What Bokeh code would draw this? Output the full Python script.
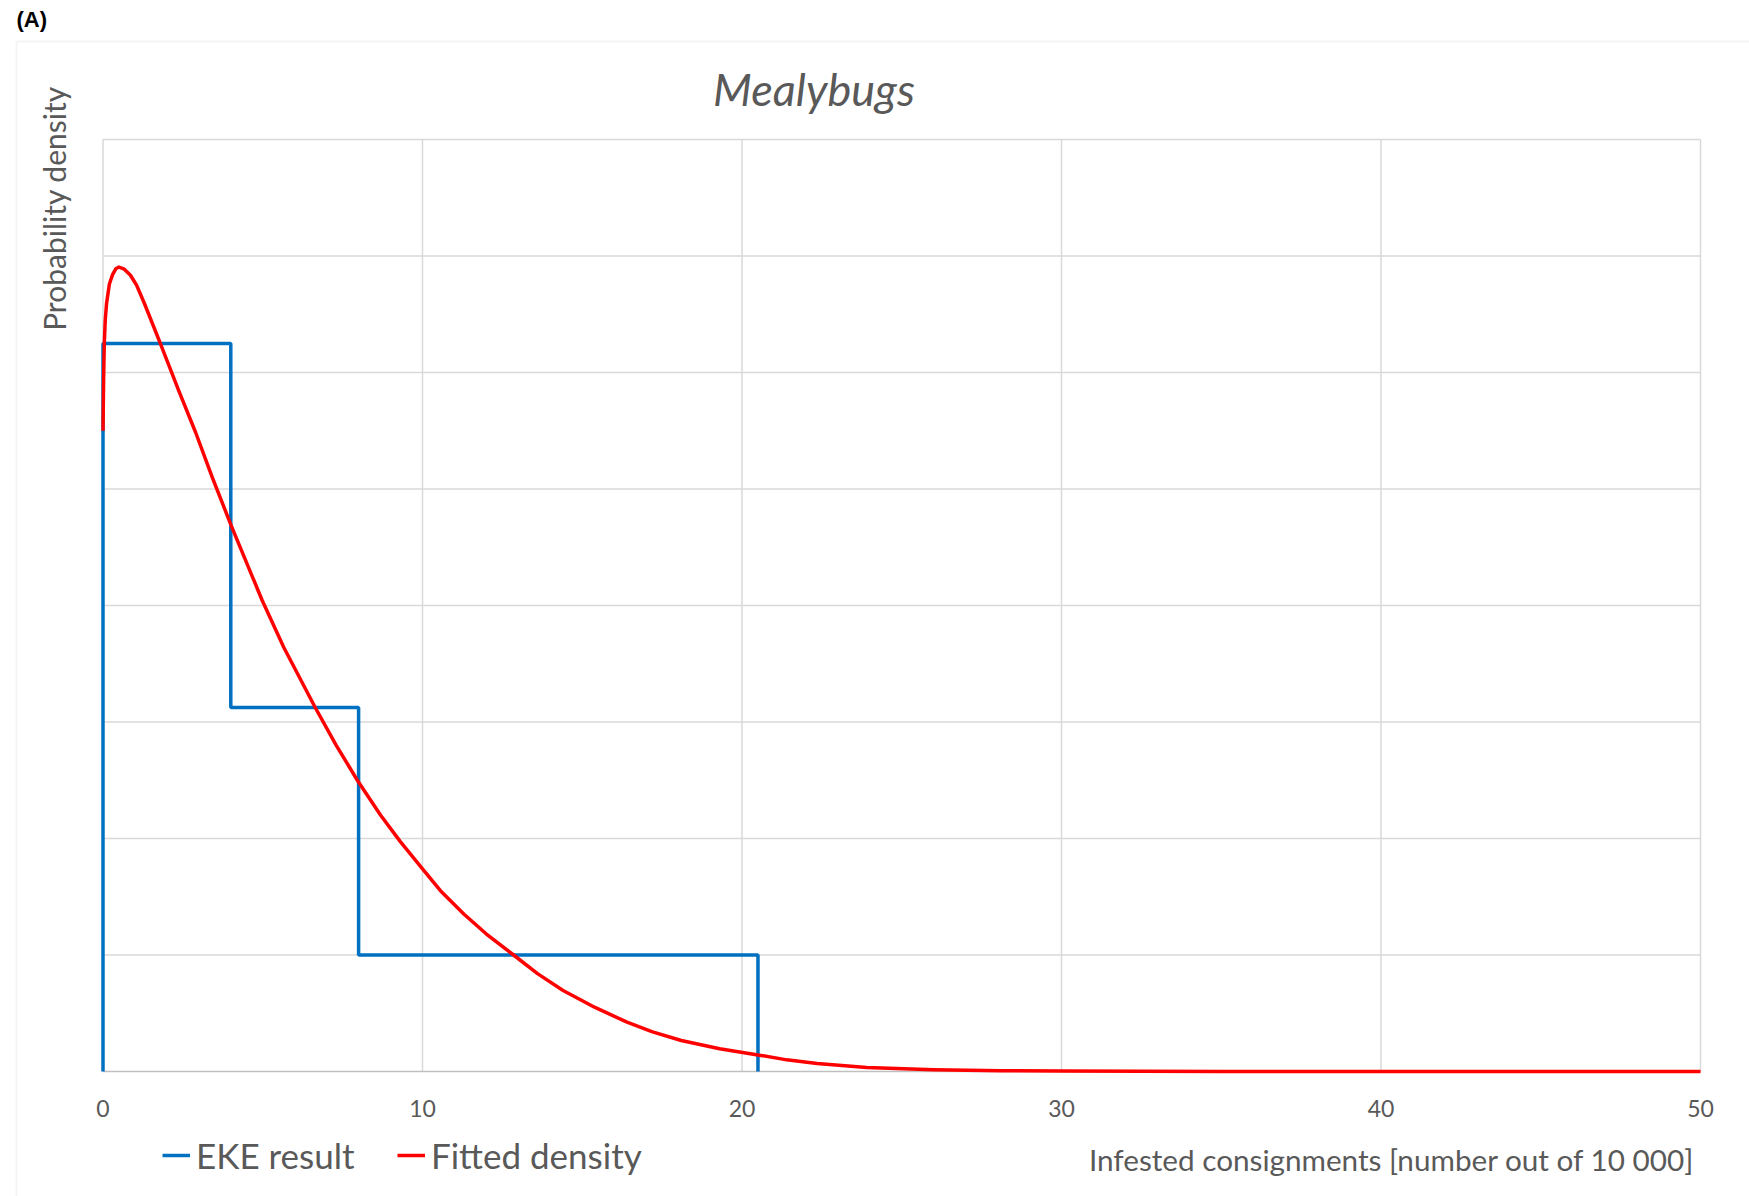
from bokeh.plotting import figure
from bokeh.models import Label, Legend, LegendItem, BoxAnnotation, Range1d
from bokeh.core.properties import value
from bokeh.embed import file_html
from bokeh.resources import INLINE
import math

# ---------------- data ----------------
x_ticks = [0, 10, 20, 30, 40, 50]
x_tick_labels = ["0", "10", "20", "30", "40", "50"]
y_grid = [0.0, 0.02, 0.04, 0.06, 0.08, 0.10, 0.12, 0.14, 0.16]

eke_x = [0, 0, 4, 4, 8, 8, 20.5, 20.5]
eke_y = [0, 0.125, 0.125, 0.0625, 0.0625, 0.02, 0.02, 0]

fit_x = [0, 0.02, 0.04, 0.07, 0.11, 0.2, 0.3, 0.4, 0.5, 0.65, 0.86, 1.05, 1.3, 1.8,
         2.37, 2.9, 3.42, 4.0, 4.98, 5.66, 6.65, 7.3, 7.96, 8.69, 9.3, 10.0, 10.6, 11.3,
         12.0, 12.85, 13.6, 14.4, 15.4, 16.4, 17.2, 18.1, 19.3, 20.5, 21.4, 22.35,
         23.9, 26.0, 28.1, 30, 35, 40, 45, 50]
fit_y = [0.110, 0.119, 0.1249, 0.1290, 0.1318, 0.1352, 0.1368, 0.1378, 0.1381, 0.1378,
         0.1367, 0.1350, 0.1318, 0.1249, 0.1169, 0.1097, 0.1020, 0.0939, 0.0809, 0.0728,
         0.0624, 0.0560, 0.0500, 0.0440, 0.0395, 0.0348, 0.0308, 0.0270, 0.0236, 0.0200,
         0.0168, 0.0139, 0.0110, 0.00847, 0.0068, 0.00532, 0.0039, 0.00285, 0.0020,
         0.00137, 0.00068, 0.0003, 0.00015, 0.00007, 0.00001, 0, 0, 0]

title_text = "Mealybugs"
x_title = "Infested consignments [number out of 10 000]"
y_title = "Probability density"
panel_tag = "(A)"
series_names = ["EKE result", "Fitted density"]

# ---------------- layout / style ----------------
GRAY = "#595959"
GRID = "#d9d9d9"
AXIS = "#bfbfbf"
FONT = "Lato"
W, H = 1749, 1196
PL, PR, PT, PB = 102.5, 1700.0, 139.0, 1071.0   # plot-area edges in canvas pixels

x_lo, x_hi = x_ticks[0], x_ticks[-1]
y_lo, y_hi = y_grid[0], y_grid[-1]
sx = (PR - PL) / (x_hi - x_lo)
sy = (PB - PT) / (y_hi - y_lo)


def X(px):
    return x_lo + (px - PL) / sx


def Y(py):
    return y_lo + (PB - py) / sy


p = figure(width=W, height=H, x_range=Range1d(X(0), X(W)), y_range=Range1d(Y(H), Y(0)),
           x_axis_type=None, y_axis_type=None, min_border=0,
           output_backend="svg", toolbar_location=None)
p.title.visible = False
p.outline_line_color = None
p.background_fill_color = "white"
p.border_fill_color = "white"

# outer chart-area frame
p.add_layout(BoxAnnotation(left=X(16), right=X(W + 60), top=Y(41), bottom=Y(H + 60),
                           fill_alpha=0, line_color=GRID, line_width=2))

# gridlines of the plot area
nx, ny = len(x_ticks), len(y_grid)
p.segment(x0=x_ticks, y0=[y_lo] * nx, x1=x_ticks, y1=[y_hi] * nx,
          line_color=GRID, line_width=1.5)
p.segment(x0=[x_lo] * (ny - 1), y0=y_grid[1:], x1=[x_hi] * (ny - 1), y1=y_grid[1:],
          line_color=GRID, line_width=1.5)
# x axis line and tick labels
p.segment(x0=[x_lo], y0=[y_lo], x1=[x_hi], y1=[y_lo], line_color=AXIS, line_width=1.5)
p.text(x=x_ticks, y=[y_lo] * nx, text=x_tick_labels, text_font=value(FONT),
       text_font_size="23px", text_color=GRAY, text_align="center",
       text_baseline="alphabetic", y_offset=37)

# data series
r_eke = p.line(eke_x, eke_y, line_color="#0070C0", line_width=3.5)
r_fit = p.line(fit_x, fit_y, line_color="#FF0000", line_width=3.5, line_join="round")

# texts
p.add_layout(Label(x=X(16), y=Y(19), text=panel_tag, text_font="Liberation Sans",
                   text_font_style="bold", text_font_size="22px", text_color="black",
                   text_align="left", text_baseline="alphabetic"))
p.add_layout(Label(x=X(813.5), y=Y(88), text=title_text, text_font=FONT,
                   text_font_style="italic", text_font_size="45px", text_color=GRAY,
                   text_align="center", text_baseline="alphabetic"))
p.add_layout(Label(x=X(53.5), y=Y(208), text=y_title, angle=math.pi / 2,
                   text_font=FONT, text_font_size="30px", text_color=GRAY,
                   text_align="center", text_baseline="middle"))
p.add_layout(Label(x=X(1694), y=Y(1159), text=x_title, text_font=FONT,
                   text_font_size="29.7px", text_color=GRAY,
                   text_align="right", text_baseline="alphabetic"))


def make_legend(label, renderer, loc):
    return Legend(items=[LegendItem(label=label, renderers=[renderer])], location=loc,
                  orientation="horizontal", padding=0, margin=0, spacing=0,
                  glyph_width=28, glyph_height=40, label_height=40, label_standoff=6,
                  border_line_color=None, background_fill_alpha=0,
                  label_text_font=FONT, label_text_font_size="35px",
                  label_text_color=GRAY)


p.add_layout(make_legend(series_names[0], r_eke, (162, H - 1176)))
p.add_layout(make_legend(series_names[1], r_fit, (397, H - 1176)))

open("out.html", "w").write(file_html(p, INLINE))
